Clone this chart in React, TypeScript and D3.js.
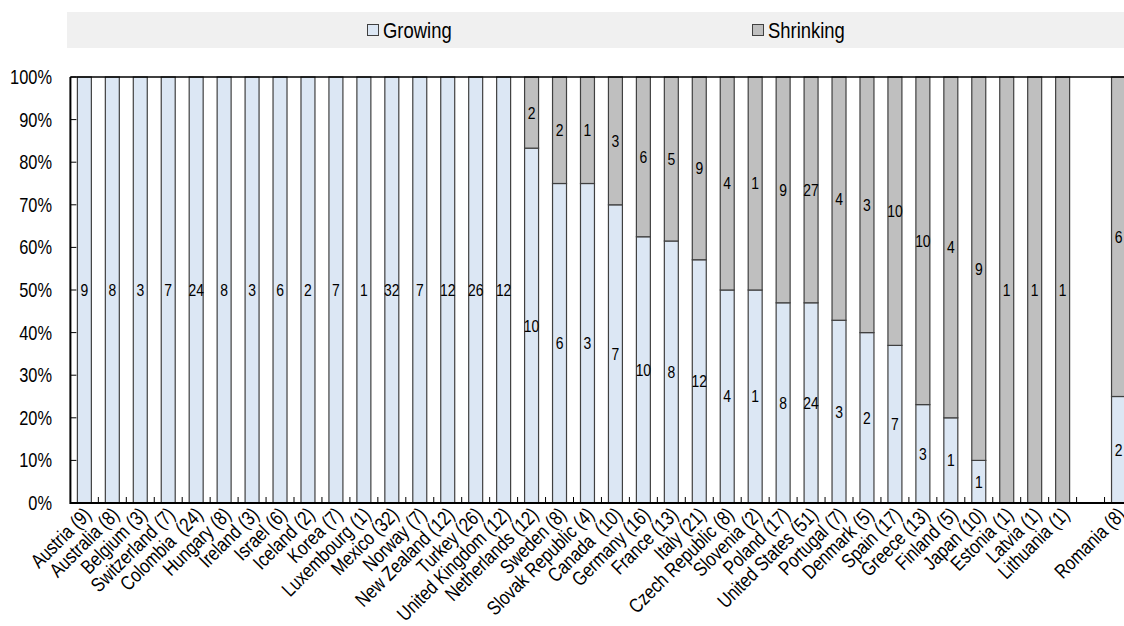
import React from "react";
import * as d3 from "d3";

// Firms per country, split by whether they are growing or shrinking
const countries = [
  "Austria (9)", "Australia (8)", "Belgium (3)", "Switzerland (7)", "Colombia  (24)",
  "Hungary (8)", "Ireland (3)", "Israel (6)", "Iceland (2)", "Korea (7)",
  "Luxembourg (1)", "Mexico (32)", "Norway (7)", "New Zealand (12)", "Turkey (26)",
  "United Kingdom (12)", "Netherlands (12)", "Sweden (8)", "Slovak Republic (4)", "Canada  (10)",
  "Germany (16)", "France (13)", "Italy (21)", "Czech Republic (8)", "Slovenia (2)",
  "Poland (17)", "United States (51)", "Portugal (7)", "Denmark (5)", "Spain (17)",
  "Greece (13)", "Finland (5)", "Japan (10)", "Estonia (1)", "Latvia (1)",
  "Lithuania (1)", "", "Romania (8)",
];

const growingCount = [
  9, 8, 3, 7, 24, 8, 3, 6, 2, 7, 1, 32, 7, 12, 26, 12,
  10, 6, 3, 7, 10, 8, 12, 4, 1, 8, 24, 3, 2, 7, 3, 1, 1, 0, 0, 0,
  0, 2,
];

const shrinkingCount = [
  0, 0, 0, 0, 0, 0, 0, 0, 0, 0, 0, 0, 0, 0, 0, 0,
  2, 2, 1, 3, 6, 5, 9, 4, 1, 9, 27, 4, 3, 10, 10, 4, 9, 1, 1, 1,
  0, 6,
];

// Share of growing firms (the rest of each column is shrinking)
const growingShare = [
  1, 1, 1, 1, 1, 1, 1, 1, 1, 1, 1, 1, 1, 1, 1, 1,
  0.833, 0.75, 0.75, 0.7, 0.625, 0.615, 0.571, 0.5, 0.5, 0.47, 0.47, 0.429, 0.4, 0.37,
  0.231, 0.2, 0.1, 0, 0, 0,
  0, 0.25,
];

const yTicks = [0, 0.1, 0.2, 0.3, 0.4, 0.5, 0.6, 0.7, 0.8, 0.9, 1];

const seriesNames = ["Growing", "Shrinking"];

const W = 1124;
const H = 626;
const FONT = "'Liberation Sans', Arial, sans-serif";
const NARROW = 0.82;
const GROW_FILL = "#dce7f4";
const SHRINK_FILL = "#bfbfbf";
const EDGE = "#404040";

// Text squeezed horizontally to get a condensed face
function Narrow({
  x,
  y,
  rotate = 0,
  size,
  anchor = "start",
  dy = "0.35em",
  children,
}: {
  x: number;
  y: number;
  rotate?: number;
  size: number;
  anchor?: string;
  dy?: string;
  children: React.ReactNode;
}) {
  return (
    <g transform={`translate(${x},${y}) rotate(${rotate}) scale(${NARROW},1)`}>
      <text
        x={0}
        y={0}
        dy={dy}
        fontSize={size}
        textAnchor={anchor}
        fill="#000"
        style={{ whiteSpace: "pre" }}
      >
        {children}
      </text>
    </g>
  );
}

export default function App() {
  const left = 70.4;
  const step = 27.95;
  const top = 77;
  const bottom = 503;

  const keys = countries.map((c, i) => `${i}`);
  const x = d3
    .scaleBand<string>()
    .domain(keys)
    .range([left, left + step * keys.length])
    .paddingInner(0.5)
    .paddingOuter(0.25);
  const y = d3.scaleLinear().domain([0, 1]).range([bottom, top]);
  const fmt = d3.format(".0%");

  const rows = countries.map((c, i) => ({
    key: keys[i],
    name: c,
    g: growingCount[i],
    s: shrinkingCount[i],
    share: growingShare[i],
    empty: c === "",
  }));

  const boundaries = keys.slice(1).map((k) => (x(k) as number) - (x.step() - x.bandwidth()) / 2);

  return (
    <svg
      width={W}
      height={H}
      style={{ position: "absolute", left: 0, top: 0, fontFamily: FONT }}
    >
      <rect x={0} y={0} width={W} height={H} fill="#ffffff" />

      {/* legend */}
      <rect x={67} y={12} width={W - 67} height={36} fill="#f0f0f0" />
      {seriesNames.map((name, i) => {
        const lx = i === 0 ? 367 : 752;
        return (
          <g key={name}>
            <rect
              x={lx + 0.5}
              y={24.5}
              width={11}
              height={11}
              fill={i === 0 ? GROW_FILL : SHRINK_FILL}
              stroke={EDGE}
              strokeWidth={1}
            />
            <Narrow x={lx + 16} y={30} size={22.5}>
              {name}
            </Narrow>
          </g>
        );
      })}

      {/* bars */}
      {rows
        .filter((r) => !r.empty)
        .map((r) => {
          const bx = x(r.key) as number;
          const bw = x.bandwidth();
          const yMid = y(r.share);
          return (
            <g key={r.key}>
              {r.share > 0 && (
                <rect
                  x={bx}
                  y={yMid}
                  width={bw}
                  height={y(0) - yMid}
                  fill={GROW_FILL}
                  stroke={EDGE}
                  strokeWidth={1.2}
                />
              )}
              {r.share < 1 && (
                <rect
                  x={bx}
                  y={y(1)}
                  width={bw}
                  height={yMid - y(1)}
                  fill={SHRINK_FILL}
                  stroke={EDGE}
                  strokeWidth={1.2}
                />
              )}
            </g>
          );
        })}

      {/* value labels */}
      {rows
        .filter((r) => !r.empty)
        .map((r) => {
          const cx = (x(r.key) as number) + x.bandwidth() / 2;
          return (
            <g key={`l${r.key}`}>
              {r.g > 0 && (
                <Narrow x={cx} y={y(r.share / 2)} size={17} anchor="middle">
                  {r.g}
                </Narrow>
              )}
              {r.s > 0 && (
                <Narrow x={cx} y={y((1 + r.share) / 2)} size={17} anchor="middle">
                  {r.s}
                </Narrow>
              )}
            </g>
          );
        })}

      {/* frame */}
      <line x1={left} x2={W} y1={top} y2={top} stroke="#000" strokeWidth={1.5} />
      <line x1={left} x2={W} y1={bottom} y2={bottom} stroke="#000" strokeWidth={2} />
      <line x1={left} x2={left} y1={top} y2={bottom + 1} stroke="#000" strokeWidth={2} />

      {/* y axis */}
      {yTicks.map((t) => (
        <g key={t}>
          <line x1={left} x2={left + 6} y1={y(t)} y2={y(t)} stroke="#000" strokeWidth={1} />
          <Narrow x={52} y={y(t)} size={20} anchor="end">
            {fmt(t)}
          </Narrow>
        </g>
      ))}

      {/* x axis ticks between categories */}
      {boundaries.map((bx, i) => (
        <line key={i} x1={bx} x2={bx} y1={bottom} y2={bottom - 6} stroke="#000" strokeWidth={1} />
      ))}

      {/* category labels */}
      {rows
        .filter((r) => !r.empty)
        .map((r) => {
          const cx = (x(r.key) as number) + x.bandwidth() / 2;
          return (
            <Narrow key={`c${r.key}`} x={cx + 3} y={bottom + 8} rotate={-45} size={20} anchor="end">
              {r.name}
            </Narrow>
          );
        })}
    </svg>
  );
}
